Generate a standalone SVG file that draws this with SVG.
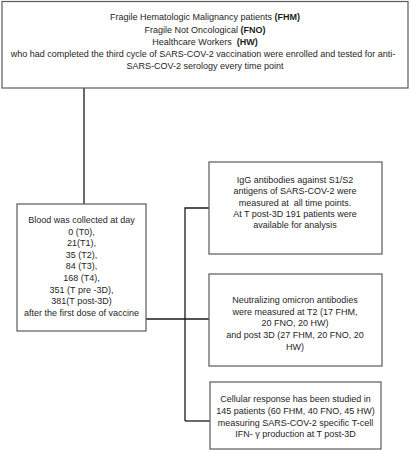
<svg xmlns="http://www.w3.org/2000/svg" width="410" height="450" viewBox="0 0 410 450">
<style>
.box{fill:#ffffff;stroke:#5a5a5a;stroke-width:1.2}
.t{font-family:"Liberation Sans",Arial,sans-serif;font-size:9px;fill:#1e1e1e;text-anchor:middle;white-space:pre}
.b{font-weight:bold}
.c{fill:none;stroke:#1a1a1a;stroke-width:1.3}
</style>
<rect width="410" height="450" fill="#ffffff"/>
<g id="connectors">
<path class="c" d="M84 88 V204"/>
<path class="c" d="M146 319 H210"/>
<path class="c" d="M185 421 V208 H209"/>
<path class="c" d="M185 421 H210"/>
</g>
<g id="top">
<rect class="box" x="2" y="1.5" width="406" height="86.5"/>
<text class="t" x="205" y="20">Fragile Hematologic Malignancy patients <tspan class="b">(FHM)</tspan></text>
<text class="t" x="205" y="32.5">Fragile Not Oncological <tspan class="b">(FNO)</tspan></text>
<text class="t" x="205" y="44.5" xml:space="preserve">Healthcare Workers  <tspan class="b">(HW)</tspan></text>
<text class="t" x="203" y="57">who had completed the third cycle of SARS-COV-2 vaccination were enrolled and tested for anti-</text>
<text class="t" x="205" y="69">SARS-COV-2 serology every time point</text>
</g>
<g id="blood">
<rect class="box" x="17" y="204" width="129" height="127"/>
<text class="t" x="81.5" y="223">Blood was collected at day</text>
<text class="t" x="81.5" y="234.5">0 (T0),</text>
<text class="t" x="81.5" y="246">21(T1),</text>
<text class="t" x="81.5" y="257.5">35 (T2),</text>
<text class="t" x="81.5" y="269">84 (T3),</text>
<text class="t" x="81.5" y="281">168 (T4),</text>
<text class="t" x="81.5" y="292.5">351 (T pre -3D),</text>
<text class="t" x="81.5" y="304">381(T post-3D)</text>
<text class="t" x="81.5" y="315.5">after the first dose of vaccine</text>
</g>
<g id="igg">
<rect class="box" x="209" y="162" width="173" height="92"/>
<text class="t" x="295" y="183">IgG antibodies against S1/S2</text>
<text class="t" x="295" y="194">antigens of SARS-COV-2 were</text>
<text class="t" x="295" y="205.5" xml:space="preserve">measured at  all time points.</text>
<text class="t" x="295" y="216.5">At T post-3D 191 patients were</text>
<text class="t" x="295" y="227.5">available for analysis</text>
</g>
<g id="neutralizing">
<rect class="box" x="209" y="274" width="173" height="92"/>
<text class="t" x="295" y="303">Neutralizing omicron antibodies</text>
<text class="t" x="295" y="314.5">were measured at T2 (17 FHM,</text>
<text class="t" x="295" y="326">20 FNO, 20 HW)</text>
<text class="t" x="295" y="337.5">and post 3D (27 FHM, 20 FNO, 20</text>
<text class="t" x="295" y="349.5">HW)</text>
</g>
<g id="cellular">
<rect class="box" x="210" y="382" width="171" height="67"/>
<text class="t" x="295.5" y="402">Cellular response has been studied in</text>
<text class="t" x="295.5" y="414">145 patients (60 FHM, 40 FNO, 45 HW)</text>
<text class="t" x="295.5" y="425.5">measuring SARS-COV-2 specific T-cell</text>
<text class="t" x="295.5" y="437">IFN- γ production at T post-3D</text>
</g>
</svg>
